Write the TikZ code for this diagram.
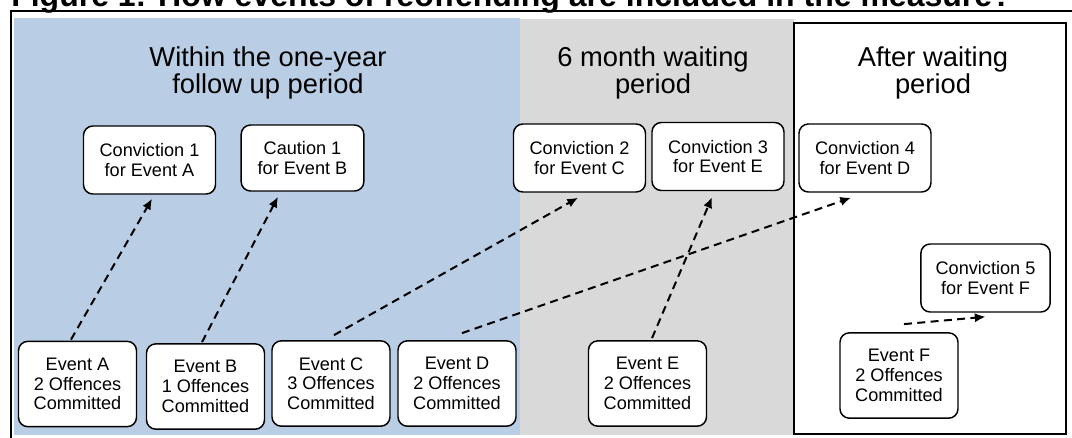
\documentclass[tikz,border=0pt]{standalone}
\usepackage{fontspec}
\setmainfont{Liberation Sans}
\usetikzlibrary{arrows.meta}

\definecolor{yearblue}{HTML}{B9CDE5}
\definecolor{waitgrey}{HTML}{D9D9D9}

\begin{document}
\begin{tikzpicture}[x=0.75pt,y=-0.75pt,>={Latex[length=8pt,width=7pt]},
  evbox/.style={draw,fill=white,rounded corners=7pt,line width=1.1pt,align=center,
    inner sep=2pt,minimum width=88.5pt,minimum height=64pt,
    font=\fontsize{13.6}{14.8}\selectfont},
  cvbox/.style={evbox,minimum width=99pt,minimum height=51pt},
  head/.style={align=center,inner sep=0pt,font=\fontsize{20.5}{18.2}\selectfont},
  link/.style={->,line width=1.5pt,dash pattern=on 6pt off 4pt}]
\useasboundingbox (0,0) rectangle (1072,437);
\fill[yearblue] (14,18) rectangle (520,435);
\fill[waitgrey] (520,19) rectangle (794,435);
\draw[line width=1.2pt,fill=white] (794,23) rectangle (1066,434);
\draw[line width=1pt] (11,445) -- (11,11) -- (1075,11);
\node[anchor=base west,inner sep=0pt,font=\fontsize{24}{26}\selectfont\bfseries] (title) at (11,6)
  {Figure 1: How events of reoffending are included in the measure?};
\node[head](H1) at (268,73){Within the one-year\\follow up period};
\node[head](H2) at (653,73){6 month waiting\\period};
\node[head](H3) at (933,73){After waiting\\period};
\node[cvbox](C1) at (149.5,160){Conviction 1\\for Event A};
\node[cvbox,minimum width=92pt,minimum height=49.5pt](K1) at (302.5,158){Caution 1\\for Event B};
\node[cvbox](C2) at (579.5,158){Conviction 2\\for Event C};
\node[cvbox](C3) at (718,156.5){Conviction 3\\for Event E};
\node[cvbox](C4) at (865,158){Conviction 4\\for Event D};
\node[cvbox,minimum width=97pt](C5) at (985.5,278){Conviction 5\\for Event F};
\node[evbox](EA) at (77.5,384){Event A\\2 Offences\\Committed};
\node[evbox](EB) at (205.5,386.5){Event B\\1 Offences\\Committed};
\node[evbox](EC) at (331,383.5){Event C\\3 Offences\\Committed};
\node[evbox](ED) at (457,383.5){Event D\\2 Offences\\Committed};
\node[evbox](EE) at (647.5,383.5){Event E\\2 Offences\\Committed};
\node[evbox](EF) at (899,375.5){Event F\\2 Offences\\Committed};
\draw[link]([xshift=-4.9pt,yshift=0.75pt]EA.north)--([xshift=1.9pt,yshift=-3pt]C1.south);
\draw[link]([xshift=-2.6pt,yshift=0.75pt]EB.north)--([xshift=-18.4pt,yshift=-3.75pt]K1.south);
\draw[link]([xshift=2.25pt,yshift=3.75pt]EC.north)--([xshift=-1.1pt,yshift=-3.75pt]C2.south);
\draw[link]([xshift=3.75pt,yshift=5.25pt]ED.north)--([xshift=-10.5pt,yshift=-3.75pt]C4.south);
\draw[link]([xshift=3.4pt,yshift=1.5pt]EE.north)--([xshift=-4.5pt,yshift=-4.5pt]C3.south);
\draw[link]([xshift=3.75pt,yshift=6pt]EF.north)--([xshift=0pt,yshift=-3pt]C5.south);
\end{tikzpicture}
\end{document}
